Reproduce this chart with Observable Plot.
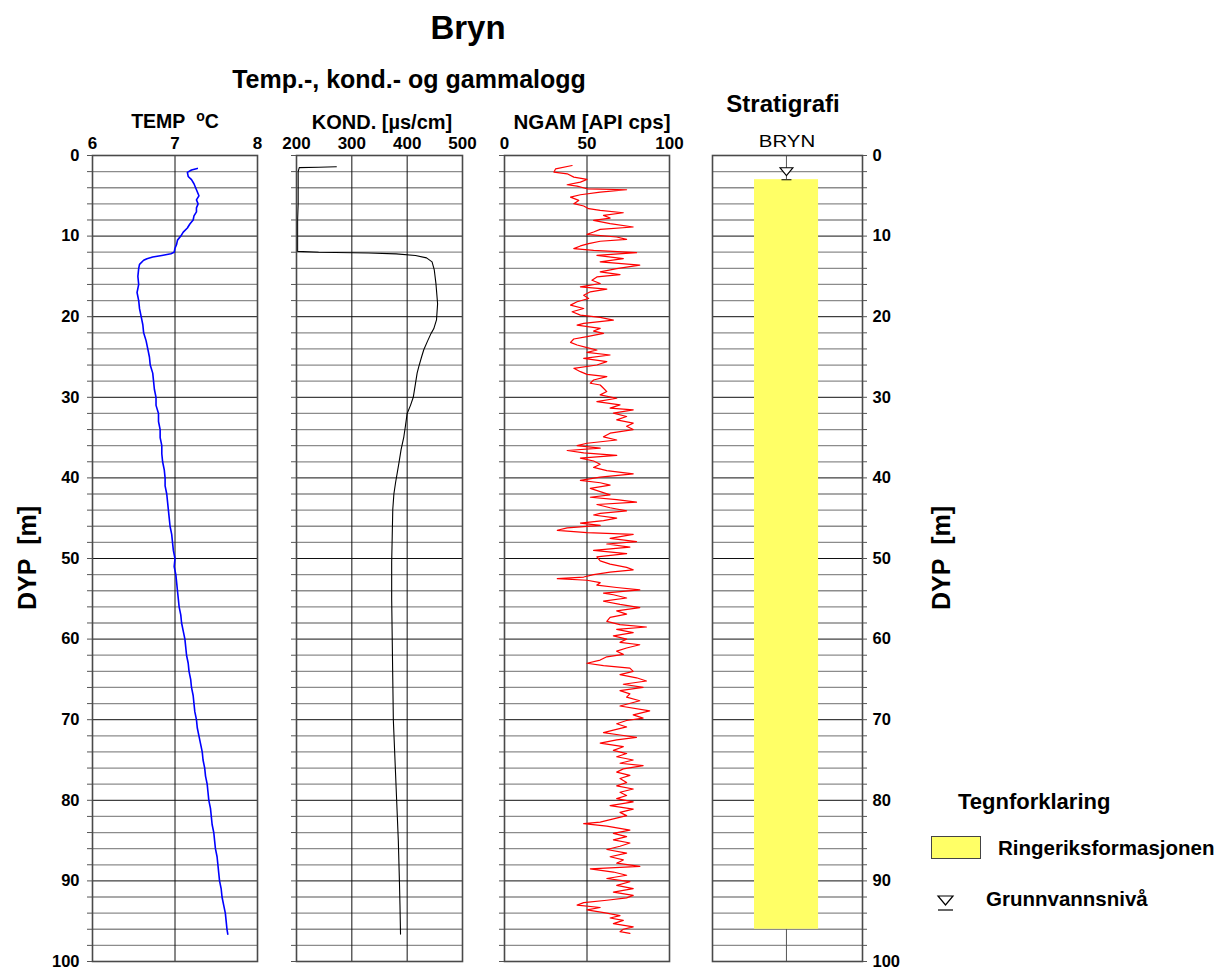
<!DOCTYPE html>
<html><head><meta charset="utf-8">
<script src="https://cdn.jsdelivr.net/npm/d3@7"></script>
<script src="https://cdn.jsdelivr.net/npm/@observablehq/plot@0.6"></script>
<style>
body{margin:0;background:#fff;font-family:"Liberation Sans",Arial,sans-serif;}
#chart{position:relative;width:1229px;height:969px;overflow:hidden;background:#fff;}
.t{position:absolute;font-weight:bold;color:#000;white-space:nowrap;line-height:1;}
svg{position:absolute;overflow:visible;}
</style></head><body><div id="chart"></div>
<script>
// ---------- data ----------
const tempLog = [[1.6,7.27],[1.8,7.20],[2.1,7.15],[2.6,7.16],[3.0,7.20],[3.5,7.23],[4.0,7.25],[4.5,7.27],[5.0,7.29],[5.5,7.26],[6.0,7.28],[6.5,7.26],[7.0,7.26],[7.5,7.23],[8.0,7.22],[8.5,7.18],[9.0,7.15],[9.5,7.10],[10.0,7.07],[10.5,7.03],[11.0,7.02],[11.5,7.00],[12.0,6.99],[12.2,6.95],[12.4,6.84],[12.6,6.73],[12.8,6.66],[13.0,6.62],[13.5,6.57],[14.0,6.56],[15,6.55],[16,6.56],[17,6.54],[18,6.56],[19,6.57],[20,6.59],[21,6.61],[22,6.62],[23,6.65],[24,6.67],[25,6.69],[26,6.70],[27,6.73],[28,6.74],[29,6.75],[30,6.77],[31,6.77],[32,6.80],[33,6.80],[34,6.82],[35,6.82],[36,6.84],[37,6.84],[38,6.85],[39,6.87],[40,6.88],[41,6.88],[42,6.90],[43,6.91],[44,6.92],[45,6.93],[46,6.94],[47,6.96],[48,6.97],[49,6.98],[50,7.00],[51,6.99],[52,7.01],[53,7.02],[54,7.03],[55,7.04],[56,7.05],[57,7.07],[58,7.08],[59,7.10],[60,7.12],[61,7.13],[62,7.14],[63,7.16],[64,7.17],[65,7.19],[66,7.20],[67,7.22],[68,7.23],[69,7.24],[70,7.26],[71,7.27],[72,7.29],[73,7.31],[74,7.33],[75,7.34],[76,7.36],[77,7.37],[78,7.39],[79,7.40],[80,7.41],[81,7.43],[82,7.44],[83,7.45],[84,7.47],[85,7.48],[86,7.49],[87,7.51],[88,7.52],[89,7.53],[90,7.54],[91,7.56],[92,7.57],[93,7.59],[94,7.61],[95,7.62],[96,7.63],[96.6,7.64]];

const kondLog = [[1.4,272],[1.45,240],[1.5,205],[2,203],[4,203],[6,203],[8,202],[10,202],[11.9,202],[12.0,240],[12.1,330],[12.2,380],[12.4,415],[12.7,435],[13.2,445],[14.2,449],[15.9,452],[18.4,455],[20.4,453],[21.5,448],[22.1,443],[23,437],[24.1,430],[25,426],[26.2,421],[27,418],[28.3,415],[30,411],[31,406],[32,400],[33.5,397],[34.9,394],[36.5,389],[38.2,385],[40.6,379],[42,376],[43.9,374],[47.2,373],[50.5,372],[55,372],[60,373],[65,374],[70,375],[75,378],[80,381],[85,384],[90,386],[93,387],[96.6,388]];

const ngamLog = [[1.24,41],[1.65,31],[2.06,30],[2.27,38],[2.68,42],[2.97,50],[3.30,46],[3.63,38],[3.80,44],[4.13,50],[4.25,74],[4.54,58],[4.87,46],[5.16,40],[5.57,45],[5.98,42],[6.27,48],[6.60,51],[6.81,58],[7.10,72],[7.43,60],[7.76,64],[8.04,54],[8.46,64],[8.87,78],[9.16,58],[9.49,54],[9.78,50],[10.11,68],[10.40,74],[10.64,58],[10.93,51],[11.22,46],[11.55,42],[11.76,54],[12.05,80],[12.38,56],[12.79,72],[13.20,58],[13.61,82],[14.03,68],[14.44,58],[14.77,70],[15.06,56],[15.47,53],[15.88,58],[16.30,46],[16.58,62],[16.91,52],[17.33,48],[17.74,51],[18.15,44],[18.56,40],[18.98,48],[19.39,41],[19.80,46],[20.09,58],[20.42,66],[20.83,48],[21.04,44],[21.45,58],[21.78,54],[22.07,60],[22.48,50],[22.77,42],[23.18,40],[23.51,44],[23.84,50],[24.13,56],[24.42,50],[24.75,64],[25.17,48],[25.58,62],[25.99,56],[26.40,42],[26.82,46],[27.15,50],[27.43,62],[27.85,54],[28.26,52],[28.47,58],[28.88,60],[29.29,62],[29.70,58],[30.12,68],[30.53,56],[30.94,70],[31.35,64],[31.56,78],[31.97,66],[32.38,74],[32.80,68],[33.21,78],[33.6,74],[34.0,78],[34.45,64],[34.9,60],[35.3,68],[35.7,50],[36.0,44],[36.3,58],[36.6,38],[36.9,48],[37.2,68],[37.55,46],[37.9,54],[38.3,58],[38.7,54],[39.1,62],[39.5,78],[39.9,58],[40.3,46],[40.6,58],[40.9,64],[41.3,52],[41.7,58],[42.1,64],[42.4,52],[42.7,68],[43.0,80],[43.3,56],[43.7,64],[44.1,74],[44.4,58],[44.6,54],[45.0,68],[45.3,60],[45.6,46],[45.9,58],[46.2,38],[46.5,32],[46.8,50],[47.0,78],[47.5,64],[47.9,80],[48.2,62],[48.6,76],[49.0,54],[49.4,74],[49.8,56],[50.3,58],[50.7,64],[51.1,74],[51.4,78],[51.7,64],[52.0,54],[52.3,48],[52.5,32],[52.7,50],[53.0,58],[53.3,56],[53.6,68],[53.9,82],[54.3,60],[54.5,66],[54.9,74],[55.3,60],[55.7,70],[56.1,82],[56.5,68],[56.9,74],[57.3,64],[57.8,62],[58.2,70],[58.5,86],[58.8,68],[59.2,78],[59.6,66],[60.0,74],[60.4,70],[60.7,82],[61.1,74],[61.5,68],[61.9,72],[62.2,62],[62.6,58],[63.0,50],[63.3,60],[63.6,76],[64.0,78],[64.4,70],[64.8,80],[65.2,86],[65.6,72],[66.0,84],[66.4,70],[66.8,76],[67.2,74],[67.65,82],[68.3,70],[68.9,88],[69.4,78],[69.8,84],[70.1,74],[70.5,68],[70.9,74],[71.3,66],[71.6,60],[71.9,70],[72.2,80],[72.5,68],[72.9,58],[73.35,72],[73.8,66],[74.2,74],[74.6,68],[75.0,78],[75.4,70],[75.7,84],[76.1,72],[76.5,68],[76.9,76],[77.3,70],[77.8,74],[78.2,68],[78.6,78],[79.0,70],[79.4,74],[79.8,68],[80.2,78],[80.65,64],[81.1,78],[81.5,70],[81.9,74],[82.3,66],[82.7,58],[82.9,48],[83.2,62],[83.7,76],[84.1,66],[84.5,74],[84.9,66],[85.3,76],[85.7,70],[86.1,62],[86.55,74],[87.0,64],[87.4,72],[87.8,68],[88.2,82],[88.5,52],[88.9,66],[89.3,74],[89.7,62],[90.1,76],[90.55,68],[90.96,78],[91.4,66],[91.8,78],[92.1,74],[92.4,62],[92.7,48],[93.0,44],[93.3,58],[93.6,50],[94.0,62],[94.3,70],[94.6,64],[94.9,72],[95.3,66],[95.7,78],[96.0,72],[96.3,70],[96.5,76]];

const depthMajor = [0,10,20,30,40,50,60,70,80,90,100];
const depthMinor = [2,4,6,8,12,14,16,18,22,24,26,28,32,34,36,38,42,44,46,48,52,54,56,58,62,64,66,68,72,74,76,78,82,84,86,88,92,94,96,98];
const tempTicks = [6,7,8];
const kondTicks = [200,300,400,500];
const ngamTicks = [0,50,100];
const layers = [{name:"Ringeriksformasjonen", top:3, bottom:96}];
const groundwater = [{level:3}];
const boreholeOpen = [{from:0, to:3}, {from:96, to:100}];

// ---------- layout ----------
const chart = document.getElementById("chart");
const Y0 = 155, Y1 = 961, H = Y1 - Y0, MT = 30, MB = 18;
const FONT = '"Liberation Sans", Arial, sans-serif';
const YELLOW = "#ffff66";
const fmt = d => String(d);

function txt(str, x, y, size, opts = {}) {
  const d = document.createElement("div");
  d.className = "t";
  d.innerHTML = str;
  d.style.fontSize = size + "px";
  d.style.left = x + "px";
  d.style.top = y + "px";
  const ax = opts.anchor === "start" ? "0" : "-50%";
  d.style.transform = `translate(${ax},-50%)` + (opts.rotate ? ` rotate(${opts.rotate}deg)` : "") + (opts.sx ? ` scaleX(${opts.sx})` : "");
  if (opts.weight) d.style.fontWeight = opts.weight;
  chart.appendChild(d);
  return d;
}

function gridMarks() {
  return [
    Plot.ruleY(depthMinor, {stroke: "#8c8c8c", strokeWidth: 1.3}),
    Plot.ruleY(depthMajor, {stroke: "#111", strokeWidth: 1})
  ];
}

function logPanel({left, right, ml, domain, ticks, inner, data, color, width, yLabels}) {
  const series = data.map(([depth, value]) => ({depth, value}));
  const marks = [
    ...gridMarks(),
    Plot.ruleX(inner, {stroke: "#111", strokeWidth: 1}),
    Plot.line(series, {x: "value", y: "depth", stroke: color, strokeWidth: width}),
    Plot.frame({stroke: "#4a4a4a", strokeWidth: 1.6}),
    Plot.axisX({anchor: "top", ticks, tickFormat: fmt, tickSize: 0, tickPadding: 7, label: null, fontSize: 17, fontWeight: "bold"}),
    Plot.axisY({anchor: "left", ticks: [...depthMajor, ...depthMinor], tickSize: 5, tickFormat: () => "", label: null, stroke: "#555"})
  ];
  if (yLabels) marks.push(Plot.axisY({anchor: "left", ticks: depthMajor, tickFormat: fmt, tickSize: 0, tickPadding: 13, label: null, fontSize: 16.5, fontWeight: "bold"}));
  const svg = Plot.plot({
    width: ml + (right - left) + 6, height: MT + H + MB,
    marginLeft: ml, marginRight: 6, marginTop: MT, marginBottom: MB,
    x: {domain}, y: {domain: [0, 100], reverse: true},
    style: {fontFamily: FONT, fontSize: "17px", fontWeight: "bold", background: "transparent", color: "#000"},
    marks
  });
  svg.style.left = (left - ml) + "px";
  svg.style.top = (Y0 - MT) + "px";
  chart.appendChild(svg);
}

logPanel({left: 92, right: 257, ml: 50, domain: [6, 8], ticks: tempTicks, inner: [7], data: tempLog, color: "#0000ff", width: 1.6, yLabels: true});
logPanel({left: 296, right: 462, ml: 10, domain: [200, 500], ticks: kondTicks, inner: [300, 400], data: kondLog, color: "#000", width: 1.1});
logPanel({left: 504, right: 669, ml: 10, domain: [0, 100], ticks: ngamTicks, inner: [50], data: ngamLog, color: "#ff0000", width: 1.2});

// stratigraphy panel
const downTriangle = {
  draw(ctx) {
    ctx.moveTo(-6.5, -12); ctx.lineTo(6.5, -12); ctx.lineTo(0, -4); ctx.closePath();
    ctx.moveTo(-5, 0); ctx.lineTo(5, 0);
  }
};
{
  const left = 712, right = 862, mr = 45;
  const svg = Plot.plot({
    width: 6 + (right - left) + mr, height: MT + H + MB,
    marginLeft: 6, marginRight: mr, marginTop: MT, marginBottom: MB,
    x: {domain: [0, 1], axis: null}, y: {domain: [0, 100], reverse: true},
    style: {fontFamily: FONT, fontSize: "17px", fontWeight: "bold", background: "transparent", color: "#000"},
    marks: [
      ...gridMarks(),
      Plot.ruleX(boreholeOpen, {x: 0.493, y1: "from", y2: "to", stroke: "#555", strokeWidth: 1}),
      Plot.rect(layers, {x1: 0.28, x2: 0.707, y1: "top", y2: "bottom", fill: YELLOW}),
      Plot.dot(groundwater, {x: 0.493, y: "level", symbol: downTriangle, fill: "#fff", stroke: "#000", strokeWidth: 1.1, r: 6}),
      Plot.frame({stroke: "#4a4a4a", strokeWidth: 1.6}),
      Plot.axisY({anchor: "right", ticks: [...depthMajor, ...depthMinor], tickSize: 4, tickFormat: () => "", label: null, stroke: "#555"}),
      Plot.axisY({anchor: "right", ticks: depthMajor, tickFormat: fmt, tickSize: 0, tickPadding: 10, label: null, fontSize: 16.5, fontWeight: "bold"})
    ]
  });
  svg.style.left = (left - 6) + "px";
  svg.style.top = (Y0 - MT) + "px";
  chart.appendChild(svg);
}

// ---------- text ----------
txt("Bryn", 468, 27, 33);
txt("Temp.-, kond.- og gammalogg", 409, 79, 25);
txt("Stratigrafi", 783, 104, 24);
txt("BRYN", 787, 141, 17, {sx: 1.2, weight: "normal"});
txt('TEMP&nbsp;&nbsp;<span style="font-size:14px;position:relative;top:-7px">o</span>C', 175, 122, 19.5);
txt("KOND. [µs/cm]", 382, 122, 20);
txt("NGAM [API cps]", 592, 122, 20.5);
txt("DYP&nbsp;&nbsp;[m]", 27, 558, 25, {rotate: -90});
txt("DYP&nbsp;&nbsp;[m]", 941, 558, 25, {rotate: -90});

// legend
txt("Tegnforklaring", 958, 802, 22, {anchor: "start"});
const box = document.createElement("div");
Object.assign(box.style, {position: "absolute", left: "931px", top: "836px", width: "48px", height: "21px", background: YELLOW, border: "1px solid #444"});
chart.appendChild(box);
txt(layers[0].name, 998, 848, 20.5, {anchor: "start"});
const tri = document.createElementNS("http://www.w3.org/2000/svg", "svg");
tri.setAttribute("width", 22); tri.setAttribute("height", 20);
tri.style.left = "935px"; tri.style.top = "893px";
tri.innerHTML = '<path d="M3,3 L18,3 L10.5,12 Z" fill="none" stroke="#000" stroke-width="1.2"/><path d="M3,17 L18,17" stroke="#000" stroke-width="1.2"/>';
chart.appendChild(tri);
txt("Grunnvannsnivå", 986, 899, 20.5, {anchor: "start"});
</script></body></html>
